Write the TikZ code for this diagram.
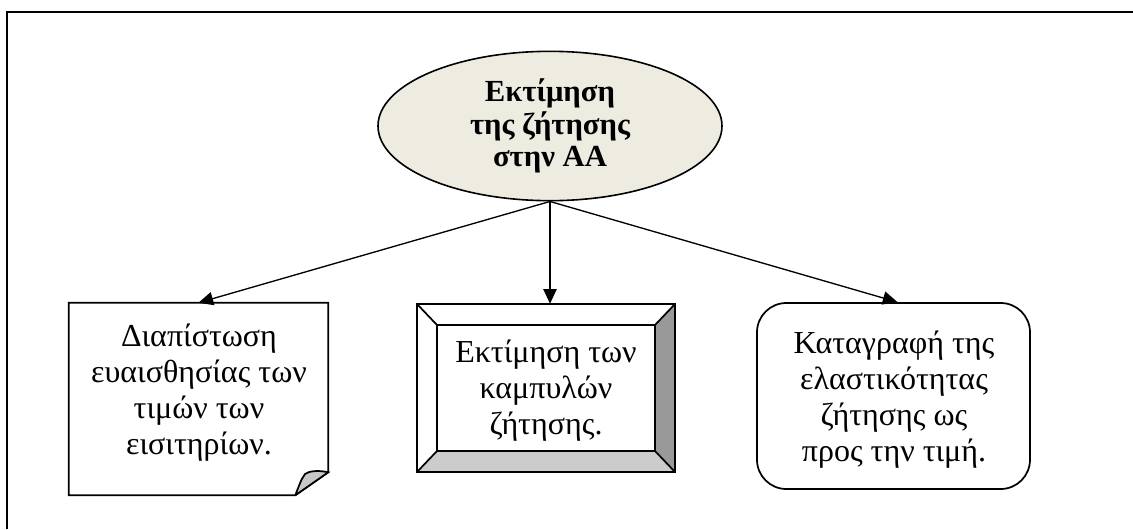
\documentclass[tikz,border=0pt]{standalone}
\usepackage{fontspec}
\setmainfont{Liberation Serif}
\usetikzlibrary{arrows.meta,shapes.geometric}
\definecolor{ovalfill}{RGB}{238,236,225}
\definecolor{bevelbottom}{RGB}{204,204,204}
\definecolor{bevelright}{RGB}{153,153,153}
\definecolor{foldgrey}{RGB}{200,200,200}

\begin{document}
\begin{tikzpicture}[x=0.75pt,y=-0.75pt,
  boxtext/.style={align=center,font=\fontsize{24}{27}\selectfont,inner sep=0pt},
  headtext/.style={align=center,font=\bfseries\fontsize{23}{24.5}\selectfont,inner sep=0pt},
  link/.style={-{Triangle[length=11pt,width=10pt]},line width=1pt},
  outline/.style={draw=black,line width=1.3pt,line join=miter},
  shapebox/.style={inner sep=0pt}]
\useasboundingbox (0,0) rectangle (1133,529);

% open frame: top and left sides
\draw[line width=2pt] (7,529) -- (7,12) -- (1133,12);

% central oval
\node (oval) [ellipse,draw,line width=1.2pt,fill=ovalfill,shapebox,
  minimum width=258pt,minimum height=112pt] at (550,126) {};
\node (ovaltext) [headtext] at (550,126) {Εκτίμηση\\της ζήτησης\\στην ΑΑ};

% left: note with a curled corner
\node (note) [shapebox,minimum width=194.25pt,minimum height=144pt] at (198.5,399) {};
\coordinate (foldtop) at ([yshift=17.25pt]note.south east);
\coordinate (foldbot) at ([xshift=-24.75pt]note.south east);
\draw[outline,fill=white] (note.north west) -- (note.north east) -- (foldtop)
  -- (foldbot) -- (note.south west) -- cycle;
\draw[outline,fill=foldgrey] (foldbot) -- (foldtop)
  .. controls (318,470) and (309,471) .. (305,474)
  .. controls (302,478) .. (foldbot);
\node (notetext) [boxtext] at (199,393)
  {Διαπίστωση\\ευαισθησίας των\\τιμών των\\εισιτηρίων.};

% middle: bevelled frame
\node (bevel) [shapebox,minimum width=193.5pt,minimum height=126pt] at (546,388) {};
\node (inner) [shapebox,minimum width=163.5pt,minimum height=94.5pt] at (546,388) {};
\fill[bevelbottom] (bevel.south west) -- (bevel.south east) -- (inner.south east)
  -- (inner.south west) -- cycle;
\fill[bevelright] (bevel.south east) -- (bevel.north east) -- (inner.north east)
  -- (inner.south east) -- cycle;
\draw[outline] (bevel.north west) rectangle (bevel.south east);
\draw[outline] (inner.north west) rectangle (inner.south east);
\draw[outline] (bevel.north west) -- (inner.north west)
  (bevel.north east) -- (inner.north east)
  (bevel.south west) -- (inner.south west)
  (bevel.south east) -- (inner.south east);
\node (beveltext) [boxtext] at (546,391) {Εκτίμηση των\\καμπυλών\\ζήτησης.};

% right: rounded box
\node (rounded) [shapebox,draw,line width=1.3pt,rounded corners=22pt,
  minimum width=204.75pt,minimum height=139.5pt] at (893.5,396) {};
\node (roundedtext) [boxtext] at (894,400)
  {Καταγραφή της\\ελαστικότητας\\ζήτησης ως\\προς την τιμή.};

% connectors
\draw[link] (oval.south) -- (note.north);
\draw[link] (oval.south) -- (bevel.north -| oval.south);
\draw[link] (oval.south) -- ([xshift=3pt]rounded.north);
\end{tikzpicture}
\end{document}
